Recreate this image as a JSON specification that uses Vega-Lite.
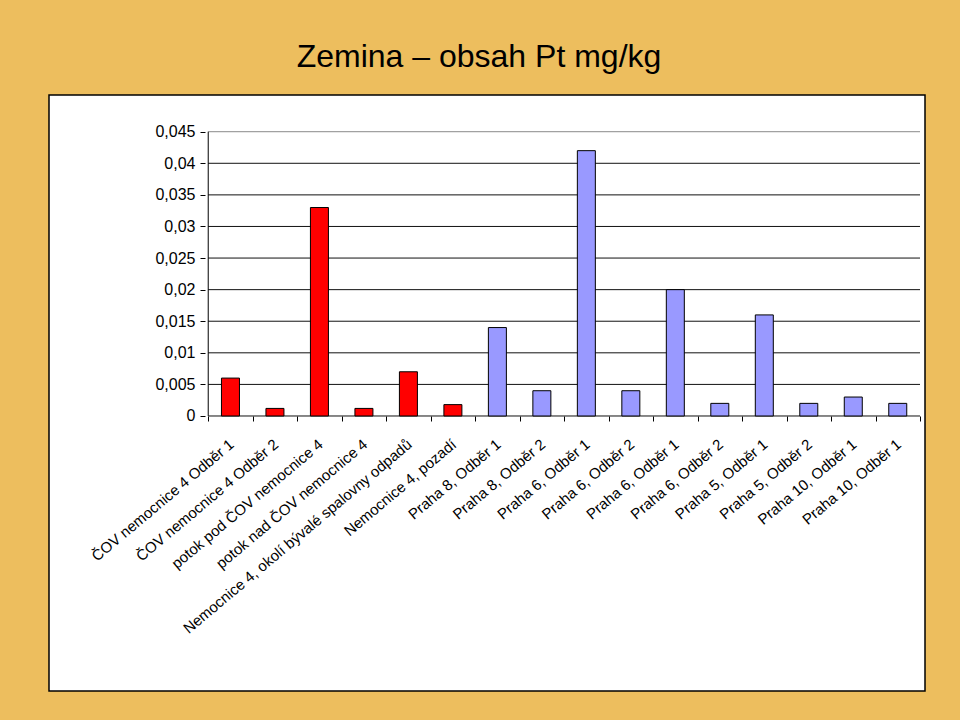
{
  "$schema": "https://vega.github.io/schema/vega-lite/v6.json",
  "autosize": {"type": "none"},
  "width": 876,
  "height": 596,
  "padding": {"left": 49, "top": 95, "right": 35, "bottom": 29},
  "background": "#EDBE5E",
  "view": {"fill": "#FFFFFF", "stroke": "#000000", "strokeWidth": 1.5},
  "title": {
    "text": "Zemina – obsah Pt mg/kg",
    "font": "Liberation Sans",
    "fontSize": 32,
    "fontWeight": "normal",
    "color": "#000000",
    "anchor": "middle",
    "baseline": "alphabetic",
    "offset": -4,
    "dx": -8
  },
  "config": {
    "font": "Liberation Sans",
    "view": {"fill": "#FFFFFF", "stroke": "#000000", "strokeWidth": 1.5}
  },
  "datasets": {
    "bars": [
      {"idx": 1, "label": "ČOV nemocnice 4 Odběr 1", "value": 0.006, "group": "A"},
      {"idx": 2, "label": "ČOV nemocnice 4 Odběr 2", "value": 0.0012, "group": "A"},
      {"idx": 3, "label": "potok pod ČOV nemocnice 4", "value": 0.033, "group": "A"},
      {"idx": 4, "label": "potok nad ČOV nemocnice 4", "value": 0.0012, "group": "A"},
      {"idx": 5, "label": "Nemocnice 4, okolí bývalé spalovny odpadů", "value": 0.007, "group": "A"},
      {"idx": 6, "label": "Nemocnice 4, pozadí", "value": 0.0018, "group": "A"},
      {"idx": 7, "label": "Praha 8, Odběr 1", "value": 0.014, "group": "B"},
      {"idx": 8, "label": "Praha 8,  Odběr 2", "value": 0.004, "group": "B"},
      {"idx": 9, "label": "Praha 6,  Odběr 1", "value": 0.042, "group": "B"},
      {"idx": 10, "label": "Praha 6, Odběr 2", "value": 0.004, "group": "B"},
      {"idx": 11, "label": "Praha 6,  Odběr 1", "value": 0.02, "group": "B"},
      {"idx": 12, "label": "Praha 6,  Odběr 2", "value": 0.002, "group": "B"},
      {"idx": 13, "label": "Praha 5, Odběr 1", "value": 0.016, "group": "B"},
      {"idx": 14, "label": "Praha 5, Odběr 2", "value": 0.002, "group": "B"},
      {"idx": 15, "label": "Praha 10,  Odběr 1", "value": 0.003, "group": "B"},
      {"idx": 16, "label": "Praha 10, Odběr 1", "value": 0.002, "group": "B"}
    ],
    "grid": [
      {"g": 0}, {"g": 0.005}, {"g": 0.01}, {"g": 0.015}, {"g": 0.02},
      {"g": 0.025}, {"g": 0.03}, {"g": 0.035}, {"g": 0.04}, {"g": 0.045}
    ]
  },
  "layer": [
    {
      "data": {"name": "grid"},
      "mark": {"type": "rule", "strokeWidth": 1},
      "encoding": {
        "x": {"datum": 0.5, "type": "quantitative",
              "scale": {"domain": [-2.9667, 16.5], "nice": false, "zero": false},
              "axis": {"values": [0.5,1.5,2.5,3.5,4.5,5.5,6.5,7.5,8.5,9.5,10.5,11.5,12.5,13.5,14.5,15.5,16.5],
                       "labels": false, "domain": false, "grid": false, "ticks": true,
                       "tickSize": 5, "tickColor": "#000000", "tickWidth": 1,
                       "offset": -275, "title": null}},
        "x2": {"datum": 16.5},
        "y": {"field": "g", "type": "quantitative",
              "scale": {"domain": [-0.04353, 0.05081], "nice": false, "zero": false},
              "axis": {"values": [0,0.005,0.01,0.015,0.02,0.025,0.03,0.035,0.04,0.045],
                       "labelExpr": "replace(format(datum.value, '.3~f'), '.', ',')",
                       "labelFont": "Liberation Sans", "labelFontSize": 16, "labelColor": "#000000",
                       "labelPadding": 5, "domain": false, "grid": false,
                       "tickSize": 5, "tickColor": "#000000", "tickWidth": 1,
                       "offset": -156, "title": null}},
        "stroke": {"condition": {"test": "datum.g == 0.045", "value": "#8A8A8A"}, "value": "#111111"}
      }
    },
    {
      "data": {"name": "grid"},
      "transform": [{"filter": "datum.g == 0"}],
      "mark": {"type": "rule", "strokeWidth": 1, "color": "#000000"},
      "encoding": {
        "x": {"datum": 0.5, "type": "quantitative"},
        "y": {"datum": 0, "type": "quantitative"},
        "y2": {"datum": 0.045}
      }
    },
    {
      "data": {"name": "bars"},
      "mark": {"type": "bar", "width": 18, "stroke": "#000000", "strokeWidth": 1},
      "encoding": {
        "x": {"field": "idx", "type": "quantitative"},
        "y": {"field": "value", "type": "quantitative"},
        "y2": {"datum": 0},
        "fill": {"field": "group", "type": "nominal",
                 "scale": {"domain": ["A", "B"], "range": ["#FF0000", "#9999FF"]},
                 "legend": null}
      }
    },
    {
      "data": {"name": "bars"},
      "mark": {"type": "text", "align": "right", "baseline": "middle", "angle": -40,
               "dx": -16, "dy": 21, "font": "Liberation Sans", "fontSize": 15, "color": "#000000"},
      "encoding": {
        "x": {"field": "idx", "type": "quantitative"},
        "y": {"datum": 0, "type": "quantitative"},
        "text": {"field": "label"}
      }
    }
  ]
}
